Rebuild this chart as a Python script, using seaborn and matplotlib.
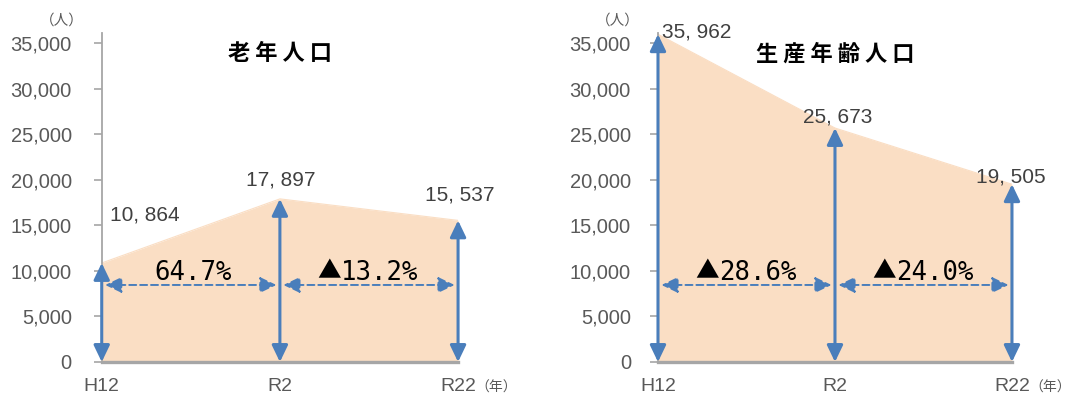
import matplotlib
matplotlib.use("Agg")
import matplotlib.pyplot as plt
from matplotlib.patches import FancyArrowPatch
import seaborn as sns
import pandas as pd

# ---- data -------------------------------------------------------------
periods = ["H12", "R2", "R22"]
elderly = [10864, 17897, 15537]          # 老年人口
working_age = [35962, 25673, 19505]      # 生産年齢人口
elderly_change = ["64.7%", "▲13.2%"]
working_change = ["▲28.6%", "▲24.0%"]
titles = ["老年人口", "生産年齢人口"]
y_ticks = [0, 5000, 10000, 15000, 20000, 25000, 30000, 35000]

# ---- style ------------------------------------------------------------
sns.set_theme(style="white")
plt.rcParams["font.family"] = ["Liberation Sans", "Noto Sans CJK JP", "DejaVu Sans"]

FILL = "#FADEC4"
BLUE = "#4A7EBB"
AXIS_GRAY = "#A6A6A6"
TICK_TXT = "#595959"
LABEL_TXT = "#404040"
CJK = ["Noto Sans CJK JP", "DejaVu Sans"]
SANS = ["Liberation Sans", "DejaVu Sans"]
MONO = ["DejaVu Sans Mono", "DejaVu Sans"]

YMAX = 36100
ARROW_Y = 8450

fig = plt.figure(figsize=(10.72, 3.96), dpi=100)
panels = [
    dict(rect=[0.0949, 0.0859, 0.3324, 0.8308], values=elderly, changes=elderly_change,
         title=titles[0], label_pad=15.5,
         offsets=[(31, 34.5), (0.7, 13.7), (1.4, 18.3)]),
    dict(rect=[0.6138, 0.0859, 0.3302, 0.8308], values=working_age, changes=working_change,
         title=titles[1], label_pad=13.5,
         offsets=[(28, 1.6), (2.2, 7.9), (-0.7, 5.2)]),
]


def change_label(ax, x, y, txt):
    """Percentage label above a dashed arrow; a leading ▲ marks a decrease."""
    mark = txt.startswith("▲")
    number = txt[1:] if mark else txt
    shift = 8 if mark else 2
    num = ax.annotate(number, xy=(x, y), xytext=(shift, 8.8), textcoords="offset points",
                      ha="center", va="center", fontsize=18.5, color="black",
                      family=MONO, zorder=6)
    if mark:
        ax.annotate("▲", xy=(0, 0.5), xycoords=num, xytext=(0, 0.5),
                    textcoords="offset points", ha="right", va="center",
                    fontsize=17, color="black", family=CJK, zorder=6)


for p in panels:
    ax = fig.add_axes(p["rect"])
    df = pd.DataFrame({"pos": range(len(periods)), "value": p["values"]})

    # area under the population curve
    sns.lineplot(data=df, x="pos", y="value", ax=ax, color=FILL, linewidth=0.8, zorder=1)
    ax.fill_between(df["pos"], 0, df["value"], color=FILL, linewidth=0, zorder=1)

    ax.set_xlim(0, len(periods) - 1)
    ax.set_ylim(0, YMAX)
    ax.set_xlabel("")
    ax.set_ylabel("")

    ax.set_yticks(y_ticks)
    ax.set_yticklabels([f"{t:,}" for t in y_ticks])
    ax.set_xticks(range(len(periods)))
    ax.set_xticklabels(periods)
    ax.tick_params(axis="y", length=6, width=1.2, color=AXIS_GRAY, pad=p["label_pad"],
                   labelsize=14.5, labelcolor=TICK_TXT, left=True)
    ax.tick_params(axis="x", length=0, pad=11.5, labelsize=14, labelcolor=TICK_TXT)

    for side in ("top", "right"):
        ax.spines[side].set_visible(False)
    ax.spines["left"].set_color(AXIS_GRAY)
    ax.spines["left"].set_linewidth(1.3)
    ax.spines["bottom"].set_color(AXIS_GRAY)
    ax.spines["bottom"].set_linewidth(2.4)
    ax.spines["bottom"].set_zorder(2)

    # vertical double arrows from zero to each value
    for i, v in enumerate(p["values"]):
        ax.add_patch(FancyArrowPatch((i, 0), (i, v), arrowstyle="<|-|>,head_length=10,head_width=4.8",
                                     mutation_scale=1, shrinkA=0, shrinkB=0, color=BLUE,
                                     linewidth=2.2, joinstyle="round", zorder=5, clip_on=False))
        ax.annotate(f"{v:,}".replace(",", ", "), xy=(i, v), xytext=p["offsets"][i],
                    textcoords="offset points", ha="center", va="center",
                    fontsize=15, color=LABEL_TXT, family=SANS, zorder=6)

    # dashed change arrows between periods
    for i, txt in enumerate(p["changes"]):
        ax.add_patch(FancyArrowPatch((i, ARROW_Y), (i + 1, ARROW_Y),
                                     arrowstyle="<|-|>,head_length=10,head_width=4.8",
                                     mutation_scale=1, shrinkA=2.5, shrinkB=2.5, color=BLUE,
                                     linewidth=1.4, linestyle=(0, (3.6, 2.0)), zorder=4))
        change_label(ax, i + 0.5, ARROW_Y, txt)

    # titles and unit labels
    ax.text(0.5, 1 - 21 / 329, " ".join(p["title"]), transform=ax.transAxes,
            ha="center", va="center", fontsize=16, fontweight="bold", color="black", family=CJK)
    ax.annotate("（人）", xy=(0, 1), xycoords="axes fraction", xytext=(-28.6, 8.6),
                textcoords="offset points", ha="center", va="center",
                fontsize=10.5, color=TICK_TXT, family=CJK)
    ax.annotate("（年）", xy=(1, 0), xycoords="axes fraction", xytext=(27.5, -18.7),
                textcoords="offset points", ha="center", va="center",
                fontsize=10, color=TICK_TXT, family=CJK)

fig.savefig("out.png", dpi=100)
